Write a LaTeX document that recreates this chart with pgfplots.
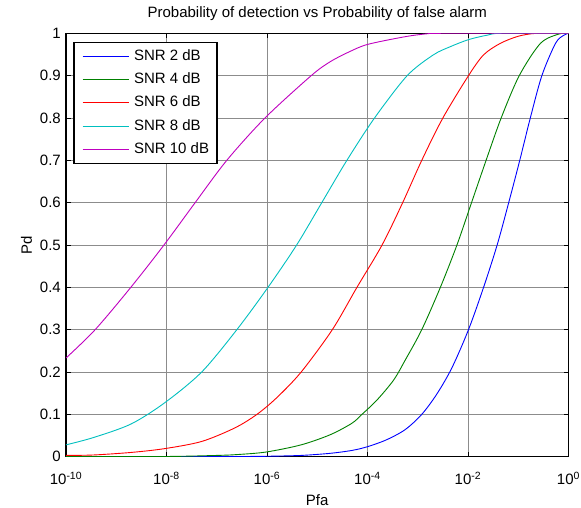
\documentclass[border=0pt]{standalone}
\usepackage{fontspec}
\setmainfont{Liberation Sans}
\usepackage{pgfplots}
\pgfplotsset{compat=1.18}

\definecolor{mblue}{rgb}{0,0,1}
\definecolor{mgreen}{rgb}{0,0.5,0}
\definecolor{mred}{rgb}{1,0,0}
\definecolor{mcyan}{rgb}{0,0.75,0.75}
\definecolor{mmagenta}{rgb}{0.75,0,0.75}

\newcommand{\fs}{\fontsize{15}{17.5}\selectfont}

\begin{document}
\begin{tikzpicture}
\useasboundingbox (-66pt,-51.3pt) rectangle (515pt,456.7pt);
\begin{axis}[
    scale only axis,
    width=502.5pt, height=423.4pt,
    at={(0pt,0pt)}, anchor=south west,
    xmin=-10, xmax=0, ymin=0, ymax=1,
    xtick={-10,-8,-6,-4,-2,0},
    xticklabels={10\textsuperscript{-10},10\textsuperscript{-8},10\textsuperscript{-6},10\textsuperscript{-4},10\textsuperscript{-2},10\textsuperscript{0}},
    ytick={0,0.1,0.2,0.3,0.4,0.5,0.6,0.7,0.8,0.9,1},
    yticklabels={0,0.1,0.2,0.3,0.4,0.5,0.6,0.7,0.8,0.9,1},
    tick align=inside, tick pos=both,
    major tick length=5pt,
    tick style={black, line width=0.8pt},
    axis line style={black, line width=1.3pt},
    xmajorgrids, ymajorgrids,
    major grid style={black!45, line width=0.7pt},
    xticklabel style={font=\fs, anchor=base, yshift=-28pt, inner sep=0pt},
    yticklabel style={font=\fs, anchor=east, xshift=-5pt, inner sep=0pt},
    title={Probability of detection vs Probability of false alarm},
    title style={font=\fs, at={(axis description cs:0.5,1.0236)}, anchor=base, inner sep=0pt},
    xlabel={Pfa},
    xlabel style={font=\fs, at={(axis description cs:0.5,-0.1157)}, anchor=base, inner sep=0pt},
    ylabel={Pd},
    ylabel style={font=\fs, at={(axis description cs:-0.0677,0.5)}, anchor=base, inner sep=0pt},
    legend style={font=\fs, at={(axis description cs:0,1)}, anchor=north west,
        xshift=7.5pt, yshift=-8.4pt, draw=black, line width=1.3pt,
        inner xsep=8pt, inner ysep=7pt, row sep=9.3pt, column sep=5pt,
        nodes={inner sep=0pt, text height=10.8pt, text depth=3.2pt}},
    legend cell align=left,
    legend image code/.code={\draw[#1, line width=0.9pt] (0pt,0pt) -- (46pt,0pt);},
    every axis plot/.append style={line width=0.9pt, smooth, tension=0.5},
]
\addplot[mblue] coordinates {
(-10,0)(-8,0)(-6.5,0.0005)(-6,0.001)(-5.32,0.003)(-4.74,0.008)(-4.3,0.015)
(-3.99,0.024)(-3.62,0.040)(-3.25,0.064)(-2.92,0.1)(-2.62,0.148)(-2.32,0.21)
(-1.99,0.3)(-1.69,0.4)(-1.42,0.5)(-1.19,0.6)(-0.97,0.7)(-0.76,0.8)(-0.53,0.9)
(-0.26,0.976)(-0.1,0.995)(0,1)
};
\addplot[mgreen] coordinates {
(-10,0)(-8,0.0005)(-7,0.003)(-6.6,0.005)(-6.02,0.011)(-5.32,0.028)(-4.74,0.052)
(-4.31,0.079)(-4.11,0.1)(-3.81,0.134)(-3.48,0.181)(-3.25,0.228)(-2.92,0.3)
(-2.55,0.4)(-2.22,0.5)(-1.93,0.6)(-1.64,0.7)(-1.34,0.8)(-0.98,0.9)(-0.56,0.976)
(-0.2,0.998)(0,1)
};
\addplot[mred] coordinates {
(-10,0.003)(-9.46,0.004)(-8.71,0.010)(-8.04,0.019)(-7.30,0.036)(-6.64,0.068)
(-6.20,0.1)(-5.80,0.14)(-5.32,0.2)(-4.70,0.3)(-4.21,0.4)(-3.71,0.5)
(-3.30,0.6)(-2.92,0.7)(-2.50,0.8)(-1.99,0.9)(-1.69,0.949)(-1.36,0.976)(-1.0,0.993)
(-0.63,1)(0,1)
};
\addplot[mcyan] coordinates {
(-10,0.028)(-9.46,0.045)(-8.71,0.077)(-8.04,0.127)(-7.30,0.2)(-6.60,0.3)
(-5.98,0.4)(-5.41,0.5)(-4.91,0.6)(-4.41,0.7)(-3.86,0.8)(-3.21,0.9)(-2.69,0.949)
(-2.36,0.968)(-1.99,0.985)(-1.6,0.996)(-1.33,1)(0,1)
};
\addplot[mmagenta] coordinates {
(-10,0.233)(-9.42,0.3)(-8.71,0.4)(-8.05,0.5)(-7.43,0.6)(-6.80,0.7)(-6.04,0.8)
(-5.12,0.9)(-4.74,0.933)(-4.35,0.957)(-3.99,0.974)(-3.25,0.992)(-2.8,0.999)(-2.5,1)(0,1)
};
\legend{SNR 2 dB, SNR 4 dB, SNR 6 dB, SNR 8 dB, SNR 10 dB}
\end{axis}
\end{tikzpicture}
\end{document}
